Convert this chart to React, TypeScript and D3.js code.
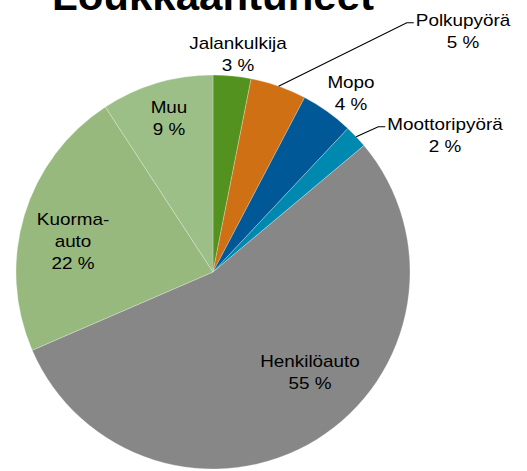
import React from "react";
import * as d3 from "d3";

const TITLE = "Loukkaantuneet";
const categories = ["Jalankulkija", "Polkupyörä", "Mopo", "Moottoripyörä", "Henkilöauto", "Kuorma-auto", "Muu"];
const labelLines = [["Jalankulkija"], ["Polkupyörä"], ["Mopo"], ["Moottoripyörä"], ["Henkilöauto"], ["Kuorma-", "auto"], ["Muu"]];
const values = [3.1, 4.6, 4.3, 1.9, 54.6, 22.3, 9.2];
const colors = ["#549220", "#d07014", "#005896", "#0089b0", "#878787", "#98b97e", "#9cbf88"];

// label layout: offsets of label centre from pie centre, and whether a leader line is drawn
const labelPos: [number, number][] = [
  [25, -218],
  [250, -241],
  [138, -179],
  [232, -137],
  [97, 100],
  [-140, -31],
  [-44, -154],
];
const leader = [false, true, false, true, false, false, false];

const W = 527;
const H = 471;
const cx = 213;
const cy = 272;
const R = 197;

function measure(t: string, fs: number): number {
  if (typeof document === "undefined") return t.length * fs * 0.5;
  const c = document.createElement("canvas").getContext("2d");
  if (!c) return t.length * fs * 0.5;
  c.font = `${fs}px 'Liberation Sans', Arial, sans-serif`;
  return c.measureText(t).width;
}

export default function App() {
  const pie = d3.pie<number>().sort(null).value((d) => d);
  const arcs = pie(values);
  const arc = d3.arc<d3.PieArcDatum<number>>().innerRadius(0).outerRadius(R);
  const fs = 16;
  const lh = 22;
  const sx = 1.18;

  return (
    <svg width={W} height={H} style={{ position: "absolute", left: 0, top: 0 }} fontFamily="'Liberation Sans', Arial, sans-serif">
      <rect width={W} height={H} fill="#fff" />
      <text x={0} y={0} transform={`translate(${cx},10) scale(1.05,1)`} textAnchor="middle" fontSize={40} fontWeight="bold" fill="#000">
        {TITLE}
      </text>
      <g transform={`translate(${cx},${cy})`}>
        {arcs.map((a, i) => (
          <path key={categories[i]} d={arc(a) || ""} fill={colors[i]} stroke="#fff" strokeWidth={0.5} strokeOpacity={0.5} />
        ))}
        {arcs.map((a, i) => {
          if (!leader[i]) return null;
          const mid = (a.startAngle + a.endAngle) / 2;
          const x0 = Math.sin(mid) * R;
          const y0 = -Math.cos(mid) * R;
          const [lx, ly] = labelPos[i];
          const lines = [...labelLines[i], `${Math.round(values[i])} %`];
          const textW = measure(labelLines[i][0], fs) * sx;
          const firstBase = ly - ((lines.length - 1) * lh) / 2 + fs * 0.36;
          const hx = lx - textW / 2 - 2;
          const ex = hx - 7;
          const ey = firstBase - 3;
          return (
            <polyline key={"l" + i} points={`${x0},${y0} ${ex},${ey} ${hx},${ey}`} fill="none" stroke="#000" strokeWidth={1.2} />
          );
        })}
        {arcs.map((a, i) => {
          const [lx, ly] = labelPos[i];
          const lines = [...labelLines[i], `${Math.round(values[i])} %`];
          const top = ly - ((lines.length - 1) * lh) / 2 + fs * 0.36;
          return (
            <g key={"t" + i} transform={`translate(${lx},0) scale(${sx},1)`}>
              {lines.map((t, j) => (
                <text key={j} x={0} y={top + j * lh} textAnchor="middle" fontSize={fs} fill="#000">
                  {t}
                </text>
              ))}
            </g>
          );
        })}
      </g>
    </svg>
  );
}
